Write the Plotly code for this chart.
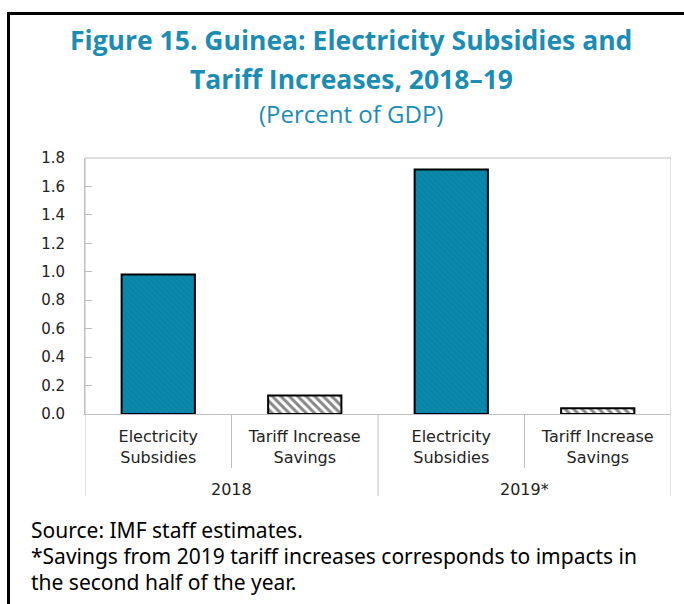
import plotly.graph_objects as go

# Values (percent of GDP)
years = ["2018", "2019*"]
items = ["Electricity<br>Subsidies", "Tariff Increase<br>Savings"]
subsidies = [0.98, 1.72]
savings = [0.13, 0.04]

y_ticks = [0.0, 0.2, 0.4, 0.6, 0.8, 1.0, 1.2, 1.4, 1.6, 1.8]

TEAL = "#0a89ab"
TITLE_BLUE = "#1b8db5"
AXIS_GREY = "#bfbfbf"
TEXT = "#222222"

W, H = 684, 604
L, R, T, B = 85, 13, 158, 190
PW, PH = W - L - R, H - T - B

def px_x(p):
    return (p - L) / PW

def px_y(p):
    return (H - B - p) / PH

keys_sub = [f"{y}|0" for y in years]
keys_sav = [f"{y}|1" for y in years]
keys = [f"{y}|{i}" for y in years for i in range(len(items))]
labels = [items[i] for y in years for i in range(len(items))]

fig = go.Figure()
fig.add_trace(go.Bar(
    x=keys_sub, y=subsidies, width=0.5, name="Electricity Subsidies",
    marker=dict(
        color=TEAL,
        line=dict(color="black", width=2),
        pattern=dict(shape="\\", fgcolor="#0778a0", size=4, solidity=0.3, fillmode="overlay"),
    ),
    showlegend=False,
))
fig.add_trace(go.Bar(
    x=keys_sav, y=savings, width=0.5, name="Tariff Increase Savings",
    marker=dict(
        color="white",
        line=dict(color="black", width=2),
        pattern=dict(shape="\\", fgcolor="#111111", size=6, solidity=0.5, fillmode="overlay"),
    ),
    showlegend=False,
))

shapes = []
# boundaries between bars within a year
for g in range(len(years)):
    b = g * len(items) + 0.5
    shapes.append(dict(type="line", xref="x", yref="paper", x0=b, x1=b,
                       y0=0, y1=px_y(468), line=dict(color=AXIS_GREY, width=1)))
# boundaries between years
for g in range(len(years) + 1):
    b = g * len(items) - 0.5
    shapes.append(dict(type="line", xref="x", yref="paper", x0=b, x1=b,
                       y0=px_y(496), y1=0 if 0 < g < len(years) else 1,
                       line=dict(color=AXIS_GREY, width=1)))
# top edge of the plot box
shapes.append(dict(type="line", xref="paper", yref="paper", x0=0, x1=1, y0=1, y1=1,
                   line=dict(color=AXIS_GREY, width=1)))
# outer frame (left and top)
shapes.append(dict(type="path", xref="paper", yref="paper",
                   path=f"M {px_x(8.5)} {px_y(620)} L {px_x(8.5)} {px_y(13.5)} L {px_x(700)} {px_y(13.5)}",
                   line=dict(color="black", width=3)))

TITLE_X = px_x(351)
annotations = [
    dict(text="<b>Figure 15. Guinea: Electricity Subsidies and</b>", x=TITLE_X, xref="paper",
         xanchor="center", y=px_y(40), yref="paper", yanchor="middle", showarrow=False,
         font=dict(size=26.5, color=TITLE_BLUE, family="Open Sans")),
    dict(text="<b>Tariff Increases, 2018–19</b>", x=TITLE_X, xref="paper",
         xanchor="center", y=px_y(79), yref="paper", yanchor="middle", showarrow=False,
         font=dict(size=26.5, color=TITLE_BLUE, family="Open Sans")),
    dict(text="(Percent of GDP)", x=TITLE_X, xref="paper",
         xanchor="center", y=px_y(113), yref="paper", yanchor="middle", showarrow=False,
         font=dict(size=24, color=TITLE_BLUE, family="Open Sans")),
]
for g, yr in enumerate(years):
    annotations.append(dict(text=yr, x=g * len(items) + 0.5, xref="x", xanchor="center",
                            y=px_y(489), yref="paper", yanchor="middle", showarrow=False,
                            font=dict(size=16, color=TEXT, family="DejaVu Sans")))

notes = ["Source: IMF staff estimates.",
         "*Savings from 2019 tariff increases corresponds to impacts in",
         "the second half of the year."]
for txt, yy in zip(notes, [530, 556, 582]):
    annotations.append(dict(text=txt, x=px_x(29), xref="paper", xanchor="left",
                            y=px_y(yy), yref="paper", yanchor="middle", showarrow=False,
                            font=dict(size=21, color="black", family="Noto Sans")))

fig.update_layout(
    width=W, height=H,
    margin=dict(l=L, r=R, t=T, b=B, pad=0),
    paper_bgcolor="white", plot_bgcolor="white",
    barmode="overlay",
    shapes=shapes, annotations=annotations,
    xaxis=dict(type="category", categoryorder="array", categoryarray=keys,
               tickvals=keys, ticktext=labels,
               showline=True, linecolor=AXIS_GREY, linewidth=1,
               ticks="", showgrid=False, zeroline=False, ticklabelstandoff=8,
               tickfont=dict(size=16, color=TEXT, family="DejaVu Sans"),
               range=[-0.5, len(keys) - 0.5]),
    yaxis=dict(range=[0, 1.8], tickvals=y_ticks, tickformat=".1f",
               showline=True, linecolor=AXIS_GREY, linewidth=1,
               ticks="inside", ticklen=7, tickcolor=AXIS_GREY,
               showgrid=False, zeroline=False, ticklabelstandoff=16,
               tickfont=dict(size=15, color=TEXT, family="DejaVu Sans")),
)

fig.write_html("out.html")
